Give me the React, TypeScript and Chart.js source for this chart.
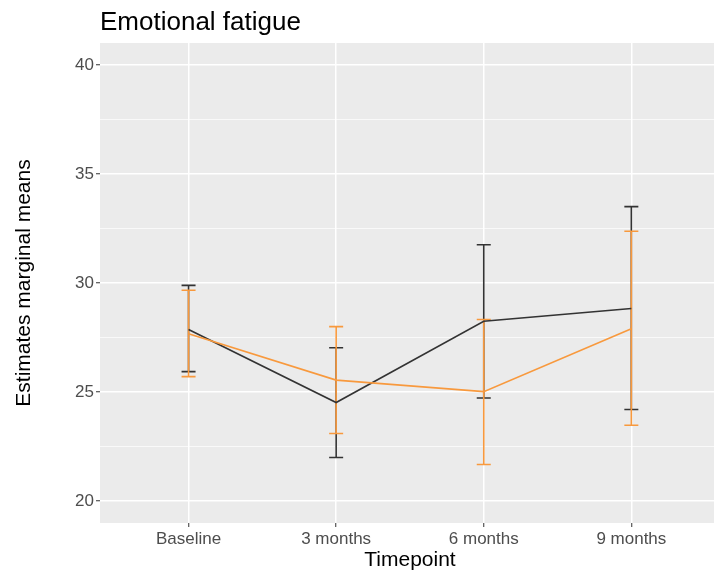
import React, { useEffect, useRef } from "react";
import { Chart, registerables } from "chart.js";

Chart.register(...registerables);

const categories = ["Baseline", "3 months", "6 months", "9 months"];
const blackMean = [27.87, 24.52, 28.25, 28.83];
const blackLower = [25.94, 22.0, 24.73, 24.2];
const blackUpper = [29.89, 27.03, 31.75, 33.5];
const orangeMean = [27.67, 25.55, 25.02, 27.9];
const orangeLower = [25.71, 23.1, 21.68, 23.48];
const orangeUpper = [29.67, 28.0, 28.33, 32.37];
const yTicks = [20, 22.5, 25, 27.5, 30, 32.5, 35, 37.5, 40];

const BLACK = "#333333";
const ORANGE = "#F8993D";
const FONT = "'Liberation Sans', Arial, sans-serif";

export default function App() {
  const ref = useRef<HTMLCanvasElement>(null);
  useEffect(() => {
    document.body.style.margin = "0";
    const canvas = ref.current!;
    const errorBars = {
      id: "errorBars",
      beforeDraw(chart: any) {
        const { ctx, chartArea } = chart;
        ctx.save();
        ctx.fillStyle = "#ebebeb";
        ctx.fillRect(chartArea.left, chartArea.top, chartArea.right - chartArea.left, chartArea.bottom - chartArea.top);
        ctx.restore();
      },
      beforeDatasetsDraw(chart: any) {
        const { ctx } = chart;
        const xs = chart.scales.x;
        const ys = chart.scales.y;
        const groups = [
          { lo: blackLower, hi: blackUpper, color: BLACK },
          { lo: orangeLower, hi: orangeUpper, color: ORANGE },
        ];
        ctx.save();
        ctx.lineWidth = 1.6;
        for (const g of groups) {
          ctx.strokeStyle = g.color;
          for (let i = 0; i < categories.length; i++) {
            const x = xs.getPixelForValue(i);
            const y1 = ys.getPixelForValue(g.lo[i]);
            const y2 = ys.getPixelForValue(g.hi[i]);
            const w = 7;
            ctx.beginPath();
            ctx.moveTo(x, y1);
            ctx.lineTo(x, y2);
            ctx.moveTo(x - w, y1);
            ctx.lineTo(x + w, y1);
            ctx.moveTo(x - w, y2);
            ctx.lineTo(x + w, y2);
            ctx.stroke();
          }
        }
        ctx.restore();
      },
      afterDraw(chart: any) {
        const { ctx, chartArea } = chart;
        ctx.save();
        ctx.fillStyle = "#000000";
        ctx.textBaseline = "alphabetic";
        ctx.font = `26px ${FONT}`;
        ctx.textAlign = "left";
        ctx.fillText("Emotional fatigue", 100, 30);
        ctx.font = `21px ${FONT}`;
        ctx.textAlign = "center";
        ctx.fillText("Timepoint", chart.scales.x.getPixelForValue(1.5), 566);
        ctx.translate(30, (chartArea.top + chartArea.bottom) / 2);
        ctx.rotate(-Math.PI / 2);
        ctx.fillText("Estimates marginal means", 0, 0);
        ctx.restore();
      },
    };

    const chart = new Chart(canvas, {
      type: "line",
      data: {
        datasets: [
          {
            label: "group 1",
            data: blackMean.map((v, i) => ({ x: i, y: v })),
            borderColor: BLACK,
            borderWidth: 1.6,
            pointRadius: 0,
            tension: 0,
            order: 1,
          },
          {
            label: "group 2",
            data: orangeMean.map((v, i) => ({ x: i, y: v })),
            borderColor: ORANGE,
            borderWidth: 1.6,
            pointRadius: 0,
            tension: 0,
            order: 0,
          },
        ],
      },
      options: {
        animation: false,
        responsive: false,
        maintainAspectRatio: false,
        layout: { padding: { top: 43, right: 1, left: 0, bottom: 0 } },
        plugins: { legend: { display: false }, tooltip: { enabled: false }, title: { display: false } },
        scales: {
          x: {
            type: "linear",
            min: -0.6,
            max: 3.56,
            afterBuildTicks: (s: any) => {
              s.ticks = categories.map((_, i) => ({ value: i }));
            },
            afterFit: (s: any) => {
              s.height = 47;
            },
            border: { display: false },
            grid: {
              color: "#ffffff",
              lineWidth: 1.5,
              tickLength: 4,
              tickColor: "#333333",
              tickWidth: 1,
            },
            ticks: {
              autoSkip: false,
              maxRotation: 0,
              padding: 2,
              color: "#4d4d4d",
              font: { family: FONT, size: 17 },
              callback: (v: any) => categories[Math.round(v)] ?? "",
            },
          },
          y: {
            type: "linear",
            min: 19,
            max: 41,
            afterBuildTicks: (s: any) => {
              s.ticks = yTicks.map((v) => ({ value: v }));
            },
            afterFit: (s: any) => {
              s.width = 100;
            },
            border: { display: false },
            grid: {
              color: "#ffffff",
              lineWidth: (c: any) => (c.tick && c.tick.value % 5 === 0 ? 1.5 : 0.7),
              tickLength: 4,
              tickColor: (c: any) => (c.tick && c.tick.value % 5 === 0 ? "#333333" : "rgba(0,0,0,0)"),
              tickWidth: 1,
            },
            ticks: {
              autoSkip: false,
              padding: 2,
              color: "#4d4d4d",
              font: { family: FONT, size: 17 },
              callback: (v: any) => (Number(v) % 5 === 0 ? String(v) : ""),
            },
          },
        },
      },
      plugins: [errorBars],
    } as any);
    return () => chart.destroy();
  }, []);
  return <canvas ref={ref} width={715} height={570} style={{ display: "block" }} />;
}
